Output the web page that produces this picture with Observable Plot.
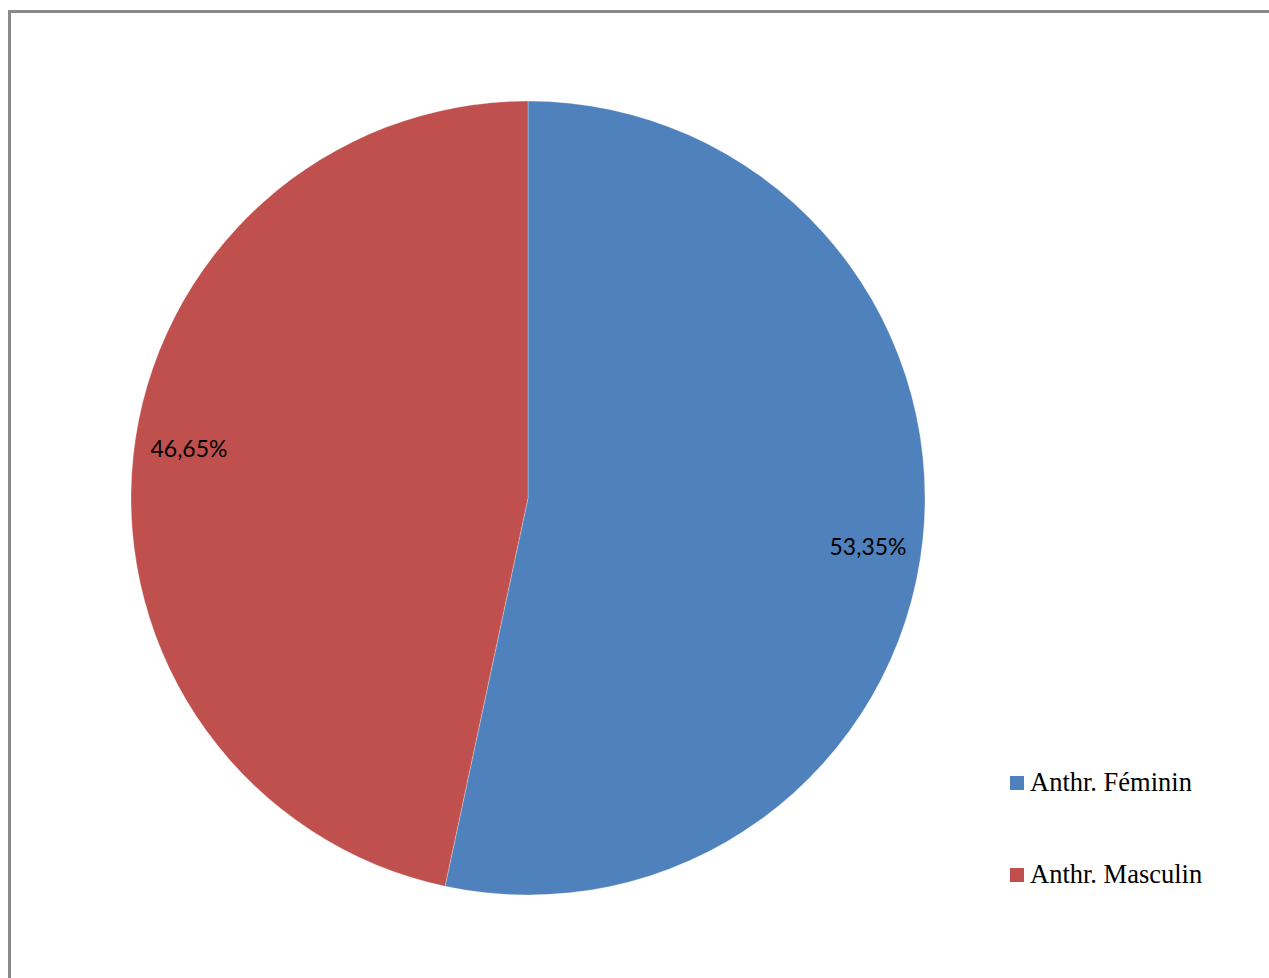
<!DOCTYPE html>
<html>
<head>
<meta charset="utf-8">
<script src="https://cdn.jsdelivr.net/npm/d3@7"></script>
<script src="https://cdn.jsdelivr.net/npm/@observablehq/plot@0.6"></script>
<style>
  html, body { margin: 0; padding: 0; background: #fff; overflow: hidden; }
  #wrap { position: relative; width: 1269px; height: 978px; overflow: hidden; }
  #frame { position: absolute; left: 8px; top: 10px; width: 1400px; height: 1100px; border: 3px solid #8a8a8a; box-sizing: border-box; pointer-events: none; }
  #chart { position: absolute; left: 0; top: 0; }
  .legend { position: absolute; left: 1010px; font-family: "Liberation Serif", "Times New Roman", serif; font-size: 26.5px; color: #000; }
  .legend .item { position: absolute; left: 0; white-space: nowrap; display: flex; align-items: center; }
  .legend .sw { width: 14px; height: 14px; display: inline-block; margin-right: 6px; }
</style>
</head>
<body>
<div id="wrap">
  <div id="chart"></div>
  <div id="frame"></div>
  <div class="legend" id="legend"></div>
</div>
<script>
const categories = ["Anthr. Féminin", "Anthr. Masculin"];
const values = [53.35, 46.65];
const labels = ["53,35%", "46,65%"];
const colors = ["#4F81BD", "#C0504D"];

const data = categories.map((c, i) => ({category: c, value: values[i], label: labels[i]}));

const pie = d3.pie().value(d => d.value).sort(null);
const arcs = pie(data);

// label positions in data units (unit circle) at mid-angle, Excel-like best fit
const labelR = 0.86;
const labelNudge = 0.033; // pushes labels away from the horizontal axis
const labelData = arcs.map(a => {
  const mid = (a.startAngle + a.endAngle) / 2;
  const yy = labelR * Math.cos(mid);
  return {label: a.data.label, x: labelR * Math.sin(mid), y: yy + Math.sign(yy) * labelNudge};
});

function pieMark(index, scales, values, dimensions, context) {
  const cx = scales.x(0), cy = scales.y(0);
  const r = Math.abs(scales.x(1) - scales.x(0));
  const arc = d3.arc().innerRadius(0).outerRadius(r);
  const g = d3.create("svg:g").attr("transform", `translate(${cx},${cy})`);
  g.selectAll("path").data(arcs).join("path")
    .attr("d", arc)
    .attr("fill", d => scales.color(d.data.category))
    .attr("stroke", "#ffffff")
    .attr("stroke-opacity", 0.35)
    .attr("stroke-width", 0.8);
  return g.node();
}

const plot = Plot.plot({
  width: 1269,
  height: 978,
  margin: 0,
  x: {domain: [-1, 1], range: [131, 925], axis: null},
  y: {domain: [-1, 1], range: [895, 101], axis: null},
  color: {domain: categories, range: colors},
  style: {background: "transparent", overflow: "visible"},
  marks: [
    pieMark,
    Plot.text(labelData, {
      x: "x", y: "y", text: "label",
      fill: "#000",
      fontSize: 23,
      fontFamily: "Lato, 'Open Sans', sans-serif",
      textAnchor: "middle"
    })
  ]
});
document.getElementById("chart").appendChild(plot);

const legend = document.getElementById("legend");
const tops = [767, 859];
categories.forEach((c, i) => {
  const item = document.createElement("div");
  item.className = "item";
  item.style.top = tops[i] + "px";
  const sw = document.createElement("span");
  sw.className = "sw";
  sw.style.background = colors[i];
  item.appendChild(sw);
  item.appendChild(document.createTextNode(c));
  legend.appendChild(item);
});
</script>
</body>
</html>
